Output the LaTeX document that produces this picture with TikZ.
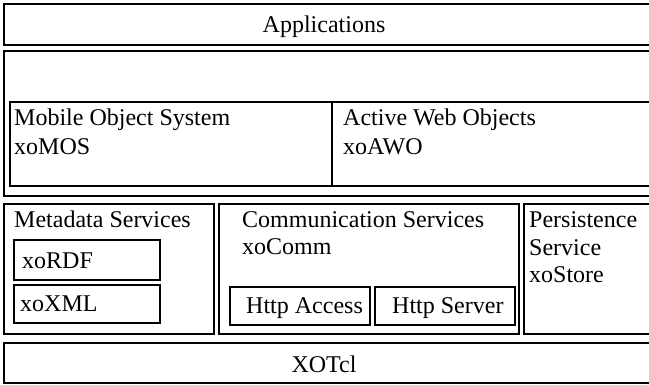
\documentclass[tikz,border=0pt]{standalone}
\usepackage{fontspec}
\setmainfont{Liberation Serif}
\begin{document}
\begin{tikzpicture}[x=1pt,y=-1pt,
  box/.style={draw, line width=1.3pt, anchor=north west, inner sep=0pt, outer sep=0pt},
  lbl/.style={anchor=base west, inner sep=0pt, font=\fontsize{24}{29}\selectfont},
  ctr/.style={anchor=base, inner sep=0pt, font=\fontsize{24}{29}\selectfont}]
\useasboundingbox (0,0) rectangle (649,385);
\clip (0,0) rectangle (649,385);
% Applications
\node[box, minimum width=660pt, minimum height=41pt] (app) at (4,4) {};
\node[ctr] (apptxt) at (324,33) {Applications};
% middle layer
\node[box, minimum width=660pt, minimum height=145pt] (mid) at (4,51) {};
\node[box, minimum width=322pt, minimum height=84pt] (mos) at (10,102) {};
\node[box, minimum width=330pt, minimum height=84pt] (awo) at (332,102) {};
\node[lbl] (mos1) at (14,126) {Mobile Object System};
\node[lbl] (mos2) at (14,155) {xoMOS};
\node[lbl] (awo1) at (343,126) {Active Web Objects};
\node[lbl] (awo2) at (343,155) {xoAWO};
% services
\node[box, minimum width=210pt, minimum height=130pt] (meta) at (4,204) {};
\node[lbl] (meta1) at (14,228) {Metadata Services};
\node[box, minimum width=146pt, minimum height=40pt] (rdf) at (14,240) {};
\node[lbl] (rdftxt) at (22,269) {xoRDF};
\node[box, minimum width=146pt, minimum height=38pt] (xml) at (14,285) {};
\node[lbl] (xmltxt) at (20,312) {xoXML};
\node[box, minimum width=300pt, minimum height=130pt] (comm) at (219,204) {};
\node[lbl] (comm1) at (242,228) {Communication Services};
\node[lbl] (comm2) at (242,255) {xoComm};
\node[box, minimum width=140pt, minimum height=38pt] (hacc) at (230,287) {};
\node[lbl] (hacctxt) at (246,314) {Http Access};
\node[box, minimum width=140pt, minimum height=38pt] (hsrv) at (375,287) {};
\node[lbl] (hsrvtxt) at (392,314) {Http Server};
\node[box, minimum width=140pt, minimum height=130pt] (pers) at (524,204) {};
\node[lbl] (pers1) at (529,228) {Persistence};
\node[lbl] (pers2) at (529,256) {Service};
\node[lbl] (pers3) at (529,283) {xoStore};
% XOTcl
\node[box, minimum width=660pt, minimum height=40pt] (xotcl) at (4,343) {};
\node[ctr] (xotxt) at (324,372) {XOTcl};
\end{tikzpicture}
\end{document}
